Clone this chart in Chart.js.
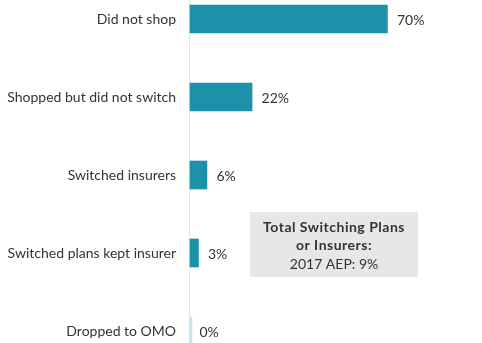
<!DOCTYPE html>
<html><head><meta charset="utf-8">
<script src="https://cdn.jsdelivr.net/npm/chart.js@4"></script>
<style>html,body{margin:0;padding:0;background:#fff;overflow:hidden}
#wrap{position:relative;width:482px;height:343px}</style>
</head><body><div id="wrap"><canvas id="c" width="482" height="343"></canvas></div>
<script>
const categories = ['Did not shop','Shopped but did not switch','Switched insurers','Switched plans kept insurer','Dropped to OMO'];
const shares = [70, 22, 6, 3, 0];
const valueLabels = ['70%','22%','6%','3%','0%'];
const noteTitle = ['Total Switching Plans','or Insurers:'];
const noteValue = '2017 AEP: 9%';

const FONT = 'Lato, "Source Sans Pro", sans-serif';
const TEXT = '#333333';

const overlay = {
  id: 'overlay',
  beforeDatasetsDraw(chart) {
    const ctx = chart.ctx;
    const x0 = chart.scales.x.getPixelForValue(0);
    ctx.save();
    ctx.fillStyle = '#e2e2e2';
    ctx.fillRect(Math.round(x0) - 1, 0, 1, chart.height);
    ctx.restore();
  },
  afterDatasetsDraw(chart) {
    const ctx = chart.ctx;
    const xs = chart.scales.x;
    const meta = chart.getDatasetMeta(0);
    ctx.save();
    ctx.fillStyle = TEXT;
    ctx.font = '14px ' + FONT;
    ctx.textAlign = 'left';
    ctx.textBaseline = 'middle';
    meta.data.forEach((bar, i) => {
      ctx.fillText(valueLabels[i], xs.getPixelForValue(shares[i]) + 9.5, bar.y + 1);
    });
    // note box
    ctx.fillStyle = '#e7e7e7';
    ctx.fillRect(250, 212, 168, 65);
    ctx.fillStyle = TEXT;
    ctx.textAlign = 'center';
    ctx.font = 'bold 14px ' + FONT;
    if ('letterSpacing' in ctx) ctx.letterSpacing = '0.5px';
    ctx.fillText(noteTitle[0], 334, 227);
    ctx.fillText(noteTitle[1], 334, 245);
    if ('letterSpacing' in ctx) ctx.letterSpacing = '0px';
    ctx.font = '14px ' + FONT;
    ctx.fillText(noteValue, 334, 264);
    ctx.restore();
  }
};

new Chart(document.getElementById('c'), {
  type: 'bar',
  data: {
    labels: categories,
    datasets: [{
      data: shares,
      backgroundColor: shares.map(v => v === 0 ? '#c9e5ed' : '#1b92aa'),
      barThickness: 28,
      minBarLength: 2,
      clip: false
    }]
  },
  options: {
    indexAxis: 'y',
    responsive: false,
    animation: false,
    devicePixelRatio: 1,
    layout: { autoPadding: false, padding: { top: 19, bottom: 12, left: 0, right: 10 } },
    plugins: { legend: { display: false }, tooltip: { enabled: false } },
    scales: {
      x: { display: false, min: 0, max: 100 },
      y: {
        type: 'category',
        offset: false,
        grid: { display: false, drawTicks: false },
        border: { display: false },
        afterFit: s => { s.width = 190; s.paddingTop = 0; s.paddingBottom = 0; },
        ticks: { padding: 14, color: TEXT, font: { family: FONT, size: 14 } }
      }
    }
  },
  plugins: [overlay]
});
</script>
</body></html>
